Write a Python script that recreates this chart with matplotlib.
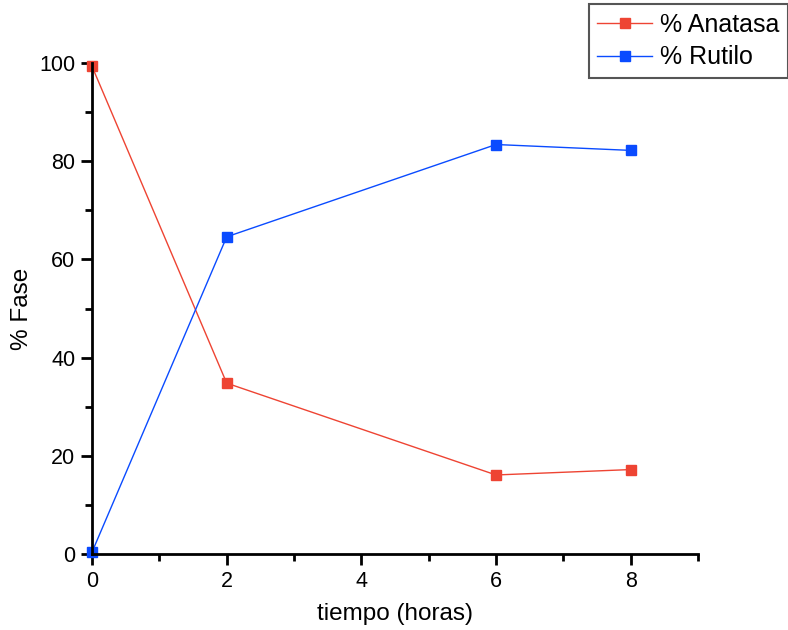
import matplotlib.pyplot as plt
from matplotlib.ticker import MultipleLocator

plt.rcParams['font.family'] = ['Liberation Sans', 'DejaVu Sans']

# datos
tiempo = [0, 2, 6, 8]
anatasa = [99.3, 34.8, 16.1, 17.2]
rutilo = [0.4, 64.6, 83.4, 82.2]

rojo = "#EE4433"
azul = "#0A4BFF"

fig = plt.figure(figsize=(7.88, 6.3), dpi=100)
ax = fig.add_axes([0.1168, 0.1206, 0.769, 0.7794])

ax.plot(tiempo, anatasa, color=rojo, lw=1, marker="s", ms=7.5,
        markerfacecolor=rojo, markeredgecolor=rojo, label="% Anatasa", clip_on=False)
ax.plot(tiempo, rutilo, color=azul, lw=1, marker="s", ms=7.5,
        markerfacecolor=azul, markeredgecolor=azul, label="% Rutilo", clip_on=False)

ax.set_xlim(0, 9)
ax.set_ylim(0, 100)
ax.xaxis.set_major_locator(MultipleLocator(2))
ax.xaxis.set_minor_locator(MultipleLocator(1))
ax.yaxis.set_major_locator(MultipleLocator(20))
ax.yaxis.set_minor_locator(MultipleLocator(10))

for s in ["top", "right"]:
    ax.spines[s].set_visible(False)
for s in ["left", "bottom"]:
    ax.spines[s].set_linewidth(2)

ax.tick_params(which="major", direction="out", length=8, width=2, labelsize=15.5, pad=4)
ax.tick_params(which="minor", direction="out", length=5, width=2)

ax.set_xlabel("tiempo (horas)", fontsize=17.5)
ax.xaxis.set_label_coords(0.5, -0.1)
ax.set_ylabel("% Fase", fontsize=17.5)
ax.yaxis.set_label_coords(-0.097, 0.5)

leg = fig.legend(loc="upper right", bbox_to_anchor=(1.0, 0.994), fontsize=18,
                 fancybox=False, edgecolor="#555555", framealpha=1,
                 handlelength=2.2, handletextpad=0.3, borderpad=0.35,
                 labelspacing=0.35, borderaxespad=0.0)
leg.get_frame().set_linewidth(1.5)

fig.savefig("out.png", dpi=100)
